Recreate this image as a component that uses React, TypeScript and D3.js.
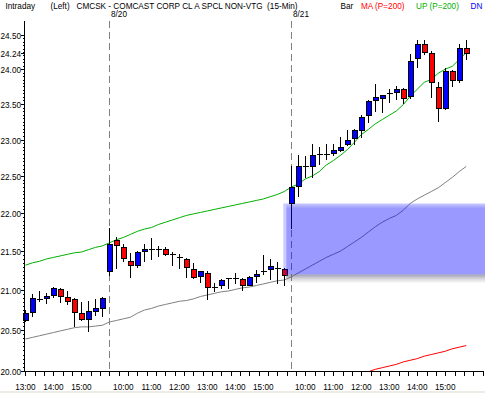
import React, { useEffect, useRef } from "react";
import * as d3 from "d3";

// 15-min bars: 13:00-15:45 (prior day), then full sessions 8/20 and 8/21
const opens = [
  20.63, 20.73, 20.89, 20.90, 20.94, 21.02, 20.92, 20.89, 20.71, 20.64, 20.74, 20.77,
  21.24, 21.65, 21.55, 21.38, 21.32, 21.50, 21.53, 21.53, 21.53, 21.46, 21.43, 21.40, 21.27,
  21.18, 21.22, 21.04, 21.06, 21.14, 21.16, 21.14, 21.07, 21.18, 21.25, 21.27, 21.28, 21.27,
  22.13, 22.36, 22.64, 22.63, 22.80, 22.80, 22.82, 22.85, 22.94, 23.02, 23.13, 23.34, 23.55,
  23.59, 23.65, 23.67, 23.71, 23.61, 24.16, 24.36, 24.24, 23.74, 23.45, 23.97, 23.85, 24.31,
];
const highs = [
  20.75, 20.95, 20.99, 20.97, 21.04, 21.03, 20.99, 20.90, 20.85, 20.86, 20.89, 20.91,
  21.80, 21.68, 21.60, 21.48, 21.50, 21.59, 21.67, 21.57, 21.55, 21.49, 21.47, 21.41, 21.35,
  21.25, 21.24, 21.09, 21.14, 21.16, 21.22, 21.15, 21.18, 21.26, 21.45, 21.40, 21.36, 21.28,
  22.63, 22.79, 22.77, 22.94, 22.90, 22.94, 22.94, 23.04, 23.13, 23.15, 23.35, 23.55, 23.78,
  23.63, 23.71, 23.75, 23.73, 24.22, 24.43, 24.43, 24.26, 23.82, 24.01, 23.99, 24.36, 24.43,
];
const lows = [
  20.61, 20.67, 20.86, 20.84, 20.92, 20.85, 20.82, 20.55, 20.63, 20.49, 20.69, 20.67,
  21.20, 21.29, 21.37, 21.17, 21.30, 21.37, 21.40, 21.44, 21.45, 21.32, 21.29, 21.17, 21.16,
  21.11, 20.89, 20.99, 21.03, 21.03, 21.09, 21.00, 21.06, 21.11, 21.21, 21.14, 21.09, 21.07,
  21.81, 22.23, 22.48, 22.48, 22.66, 22.73, 22.79, 22.84, 22.92, 22.94, 23.04, 23.24, 23.40,
  23.39, 23.53, 23.57, 23.51, 23.58, 24.03, 24.22, 23.60, 23.26, 23.43, 23.76, 23.81, 24.15,
];
const closes = [
  20.71, 20.90, 20.89, 20.93, 21.03, 20.93, 20.86, 20.73, 20.64, 20.74, 20.78, 20.90,
  21.59, 21.58, 21.41, 21.32, 21.49, 21.53, 21.53, 21.53, 21.47, 21.46, 21.43, 21.30, 21.17,
  21.24, 21.04, 21.04, 21.13, 21.16, 21.16, 21.07, 21.17, 21.21, 21.25, 21.31, 21.28, 21.20,
  22.35, 22.64, 22.64, 22.79, 22.80, 22.80, 22.86, 22.90, 23.00, 23.13, 23.31, 23.54, 23.60,
  23.63, 23.65, 23.71, 23.59, 24.12, 24.36, 24.25, 23.82, 23.44, 23.98, 23.85, 24.31, 24.24,
];
const upperBand = [
  21.32, 21.35, 21.37, 21.40, 21.42, 21.44, 21.46, 21.48, 21.49, 21.52, 21.55, 21.57,
  21.61, 21.65, 21.68, 21.72, 21.76, 21.79, 21.81, 21.85, 21.88, 21.91, 21.94, 21.97, 21.99,
  22.01, 22.03, 22.05, 22.07, 22.09, 22.11, 22.13, 22.15, 22.17, 22.19, 22.22, 22.25, 22.29,
  22.35, 22.39, 22.46, 22.50, 22.56, 22.65, 22.71, 22.78, 22.86, 22.96, 23.07, 23.14, 23.22,
  23.28, 23.34, 23.40, 23.49, 23.61, 23.71, 23.81, 23.85, 23.94, 24.00, 24.04, 24.14, 24.24,
];
const lowerBand = [
  20.39, 20.41, 20.43, 20.45, 20.47, 20.49, 20.51, 20.53, 20.54, 20.54, 20.55, 20.56,
  20.60, 20.62, 20.64, 20.66, 20.71, 20.75, 20.77, 20.80, 20.82, 20.84, 20.86, 20.87, 20.89,
  20.92, 20.94, 20.96, 20.98, 20.99, 21.01, 21.03, 21.04, 21.06, 21.08, 21.10, 21.12, 21.13,
  21.17, 21.22, 21.27, 21.32, 21.37, 21.42, 21.46, 21.50, 21.56, 21.62, 21.68, 21.75, 21.82,
  21.88, 21.93, 21.97, 22.04, 22.13, 22.19, 22.24, 22.29, 22.34, 22.41, 22.48, 22.56, 22.63,
];
// moving average only shows once it climbs above the 20.00 floor
const maLine = [
  null, null, null, null, null, null, null, null, null, null, null, null,
  null, null, null, null, null, null, null, null, null, null, null, null, null,
  null, null, null, null, null, null, null, null, null, null, null, null, null,
  null, null, null, null, null, null, null, null, null, null, null, 19.99, 20.02,
  20.04, 20.06, 20.08, 20.11, 20.13, 20.15, 20.18, 20.20, 20.22, 20.24, 20.27, 20.29, 20.31,
];

const sessionStarts = [12, 38];
const sessionLabels = ["8/20", "8/21"];
const timeLabels = ["13:00", "14:00", "15:00", "10:00", "11:00", "12:00", "13:00", "14:00", "15:00",
  "10:00", "11:00", "12:00", "13:00", "14:00", "15:00"];
const timeLabelIdx = [0, 4, 8, 14, 18, 22, 26, 30, 34, 40, 44, 48, 52, 56, 60];
const priceTicks = [20, 20.5, 21, 21.5, 22, 22.5, 23, 23.5, 24, 24.5];

const FONT = "'Liberation Sans', Arial, sans-serif";

export default function App() {
  const ref = useRef<SVGSVGElement>(null);

  useEffect(() => {
    const svg = d3.select(ref.current);
    svg.selectAll("*").remove();

    const left = 24, right = 483, top = 35, bottom = 371;
    const x = d3.scaleLinear().domain([-0.2, 65.4]).range([left, right]);
    const y = d3.scaleLog().domain([20, 24.5]).range([bottom, top]);
    const px = (i: number) => Math.round(x(i)) + 0.5;

    svg.append("rect").attr("width", 485).attr("height", 393).attr("fill", "#fff");
    svg.append("rect").attr("y", 391).attr("width", 485).attr("height", 2).attr("fill", "#ecebe6");

    const defs = svg.append("defs");
    defs.append("clipPath").attr("id", "plotClip")
      .append("rect").attr("x", left).attr("y", 18).attr("width", right - left + 2).attr("height", bottom - 18);

    // header
    const header = [
      { t: "Intraday", x: 5.5, c: "#000" },
      { t: "(Left)", x: 50.5, c: "#000" },
      { t: "CMCSK - COMCAST CORP CL A SPCL NON-VTG  (15-Min)", x: 76.5, c: "#000" },
      { t: "Bar", x: 340.5, c: "#000" },
      { t: "MA (P=200)", x: 361, c: "#ff0000" },
      { t: "UP (P=200)", x: 416, c: "#00b000" },
      { t: "DN", x: 470.5, c: "#0000ff" },
    ];
    svg.selectAll(".hdr").data(header).join("text")
      .attr("class", "hdr")
      .attr("x", d => d.x).attr("y", 8.5)
      .attr("fill", d => d.c)
      .style("font-family", FONT).style("font-size", "8.2px")
      .style("white-space", "pre")
      .text(d => d.t);

    // session separators
    const g = svg.append("g");
    sessionStarts.forEach((s, k) => {
      g.append("line")
        .attr("x1", px(s)).attr("x2", px(s)).attr("y1", 21).attr("y2", bottom)
        .attr("stroke", "#808080").attr("stroke-dasharray", "7,4")
        .attr("shape-rendering", "crispEdges");
      g.append("text")
        .attr("x", px(s) + 1.5).attr("y", 17)
        .style("font-family", FONT).style("font-size", "8.2px")
        .text(sessionLabels[k]);
    });

    // bands and MA
    const lineG = svg.append("g").attr("clip-path", "url(#plotClip)");
    const mk = (vals: (number | null)[]) =>
      d3.line<number | null>()
        .defined(d => d != null)
        .x((d, i) => x(i))
        .y(d => y(d as number))(vals);
    lineG.append("path").attr("d", mk(lowerBand)).attr("fill", "none").attr("stroke", "#808080").attr("stroke-width", 1);
    lineG.append("path").attr("d", mk(upperBand)).attr("fill", "none").attr("stroke", "#00b000").attr("stroke-width", 1);
    lineG.append("path").attr("d", mk(maLine)).attr("fill", "none").attr("stroke", "#ff0000").attr("stroke-width", 1);

    // candles
    const cg = svg.append("g").attr("shape-rendering", "crispEdges");
    opens.forEach((o, i) => {
      const c = closes[i];
      const cx = px(i);
      cg.append("line")
        .attr("x1", cx).attr("x2", cx)
        .attr("y1", Math.round(y(highs[i]))).attr("y2", Math.round(y(lows[i])) + 1)
        .attr("stroke", "#000");
      const yt = Math.round(y(Math.max(o, c)));
      const yb = Math.round(y(Math.min(o, c)));
      if (yb - yt < 2) {
        cg.append("line")
          .attr("x1", cx - 3).attr("x2", cx + 3)
          .attr("y1", yt + 0.5).attr("y2", yt + 0.5)
          .attr("stroke", "#000");
      } else {
        cg.append("rect")
          .attr("x", cx - 2.5).attr("y", yt + 0.5)
          .attr("width", 5).attr("height", yb - yt)
          .attr("fill", c > o ? "#0000ff" : "#ff0000")
          .attr("stroke", "#000");
      }
    });

    // opening gap zone (previous close -> next open)
    const gs = sessionStarts[1];
    const gapHigh = opens[gs], gapLow = closes[gs - 1];
    const gx = x(gs - 1) - 1, gTop = y(gapHigh), gBot = y(gapLow);
    const vg = defs.append("linearGradient").attr("id", "gapFill")
      .attr("gradientUnits", "userSpaceOnUse")
      .attr("x1", 0).attr("x2", 0).attr("y1", gTop).attr("y2", gBot);
    vg.append("stop").attr("offset", 0).attr("stop-color", "#0000ff").attr("stop-opacity", 0.2);
    vg.append("stop").attr("offset", 0.07).attr("stop-color", "#0000ff").attr("stop-opacity", 0.4);
    vg.append("stop").attr("offset", 1).attr("stop-color", "#0000ff").attr("stop-opacity", 0.4);
    const sg = defs.append("linearGradient").attr("id", "gapShadow")
      .attr("x1", 0).attr("x2", 0).attr("y1", 0).attr("y2", 1);
    sg.append("stop").attr("offset", 0).attr("stop-color", "#505078").attr("stop-opacity", 0.55);
    sg.append("stop").attr("offset", 1).attr("stop-color", "#909090").attr("stop-opacity", 0);
    svg.append("rect").attr("x", gx).attr("y", gTop).attr("width", 3)
      .attr("height", gBot - gTop).attr("fill", "#0000ff").attr("opacity", 0.2);
    svg.append("rect").attr("x", gx + 3).attr("y", gTop).attr("width", 485 - gx - 3)
      .attr("height", gBot - gTop).attr("fill", "url(#gapFill)");
    svg.append("rect").attr("x", gx + 3).attr("y", gBot).attr("width", 485 - gx - 3)
      .attr("height", 9).attr("fill", "url(#gapShadow)");

    // y axis
    const ax = svg.append("g").attr("shape-rendering", "crispEdges");
    ax.append("line").attr("x1", left + 0.5).attr("x2", left + 0.5).attr("y1", 21).attr("y2", bottom + 0.5).attr("stroke", "#000");
    d3.range(20, 24.5001, 0.05).forEach(v => {
      const yy = Math.round(y(v)) + 0.5;
      ax.append("line").attr("x1", left - 1.5).attr("x2", left).attr("y1", yy).attr("y2", yy).attr("stroke", "#000");
    });
    const lastPrice = closes[closes.length - 1];
    [...priceTicks, lastPrice].forEach(v => {
      const yy = Math.round(y(v)) + 0.5;
      ax.append("line").attr("x1", left - 3).attr("x2", left).attr("y1", yy).attr("y2", yy).attr("stroke", "#000");
      svg.append("text")
        .attr("x", left - 3).attr("y", yy + 3)
        .attr("text-anchor", "end")
        .style("font-family", FONT).style("font-size", "8.2px")
        .text(v.toFixed(2));
    });

    // x axis
    ax.append("line").attr("x1", left).attr("x2", right).attr("y1", bottom + 0.5).attr("y2", bottom + 0.5).attr("stroke", "#000");
    d3.range(0, 65.4, 4 / 3).forEach(i => {
      const xx = Math.round(x(i)) + 0.5;
      ax.append("line").attr("x1", xx).attr("x2", xx).attr("y1", bottom).attr("y2", bottom + 5).attr("stroke", "#000");
    });
    svg.selectAll(".xl").data(timeLabels).join("text")
      .attr("class", "xl")
      .attr("x", (d, k) => x(timeLabelIdx[k]))
      .attr("y", 390)
      .attr("text-anchor", "middle")
      .style("font-family", FONT).style("font-size", "8.2px")
      .text(d => d);
  }, []);

  return (
    <svg ref={ref} width={485} height={393} style={{ position: "absolute", left: 0, top: 0 }} />
  );
}
